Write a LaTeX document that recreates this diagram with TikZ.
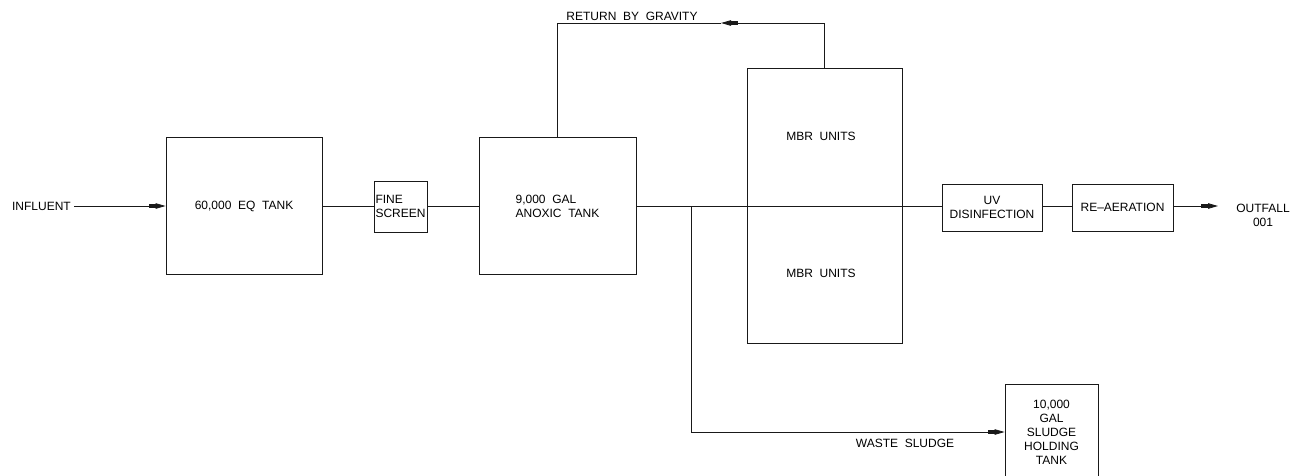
\documentclass[tikz,border=0pt]{standalone}
\usepackage{fontspec}
\setmainfont{Liberation Sans}
\usetikzlibrary{arrows.meta}
\tikzset{
  every picture/.style={x=1pt,y=-1pt},
  ln/.style={line width=0.8pt,draw=black!90},
  box/.style={ln,rectangle,inner sep=1pt,font=\fontsize{12}{14}\selectfont,align=center},
  lbl/.style={inner sep=0pt,font=\fontsize{12}{14}\selectfont,align=center},
  arr/.style={ln,-{Rectangle[length=7pt,width=4pt,sep=0pt]Triangle[length=10pt,width=5.5pt]}},
}
\begin{document}
\begin{tikzpicture}
\useasboundingbox (0,0) rectangle (1297,475);
\clip (0,0) rectangle (1297,475);
% boxes
\node[box,minimum width=156pt,minimum height=137pt] (eq) at (244,206) {60,000\ \ EQ\ \ TANK};
\node[box,minimum width=53pt,minimum height=51pt,align=left] (fs) at (400.5,206.5) {FINE\\SCREEN};
\node[box,minimum width=157pt,minimum height=137pt,align=left] (ax) at (557.5,206) {9,000\ \ GAL\\ANOXIC\ \ TANK};
\node[box,minimum width=155pt,minimum height=275pt] (mbr) at (824.5,205.5) {};
\node[lbl] (mbr1) at (821,136) {MBR\ \ UNITS};
\node[lbl] (mbr2) at (821,273) {MBR\ \ UNITS};
\node[box,minimum width=100pt,minimum height=47pt] (uv) at (992,207.5) {UV\\DISINFECTION};
\node[box,minimum width=101pt,minimum height=47pt] (ra) at (1122.5,207.5) {RE--AERATION};
\node[box,minimum width=93pt,minimum height=96pt] (st) at (1051.5,432) {10,000\\GAL\\SLUDGE\\HOLDING\\TANK};
% labels
\node[lbl,anchor=east] (inf) at (71,206) {INFLUENT};
\node[lbl] (of) at (1263,215) {OUTFALL\\001};
\node[lbl] (rbg) at (632,16) {RETURN\ \ BY\ \ GRAVITY};
\node[lbl] (ws) at (905,443) {WASTE\ \ SLUDGE};
% coordinates
\coordinate (r1) at (824.5,23);
\coordinate (am) at (721,23);
\coordinate (r2) at (557.5,23);
\coordinate (br) at (691,206);
\coordinate (oe) at (1218,206);
% connectors
\draw[arr] ([xshift=3pt]inf.east) -- (eq.west);
\draw[ln] (eq.east) -- (fs.west |- eq.east);
\draw[ln] (fs.east |- eq.east) -- (ax.west);
\draw[ln] (ax.east) -- (uv.west |- ax.east);
\draw[ln] (uv.east |- ax.east) -- (ra.west |- ax.east);
\draw[arr] (ra.east |- ax.east) -- (oe);
\draw[ln] (mbr.north) -- (r1);
\draw[arr] (r1) -- (am);
\draw[ln] (am) -- (r2) -- (ax.north);
\draw[arr] (br) |- (st.west);
\end{tikzpicture}
\end{document}
